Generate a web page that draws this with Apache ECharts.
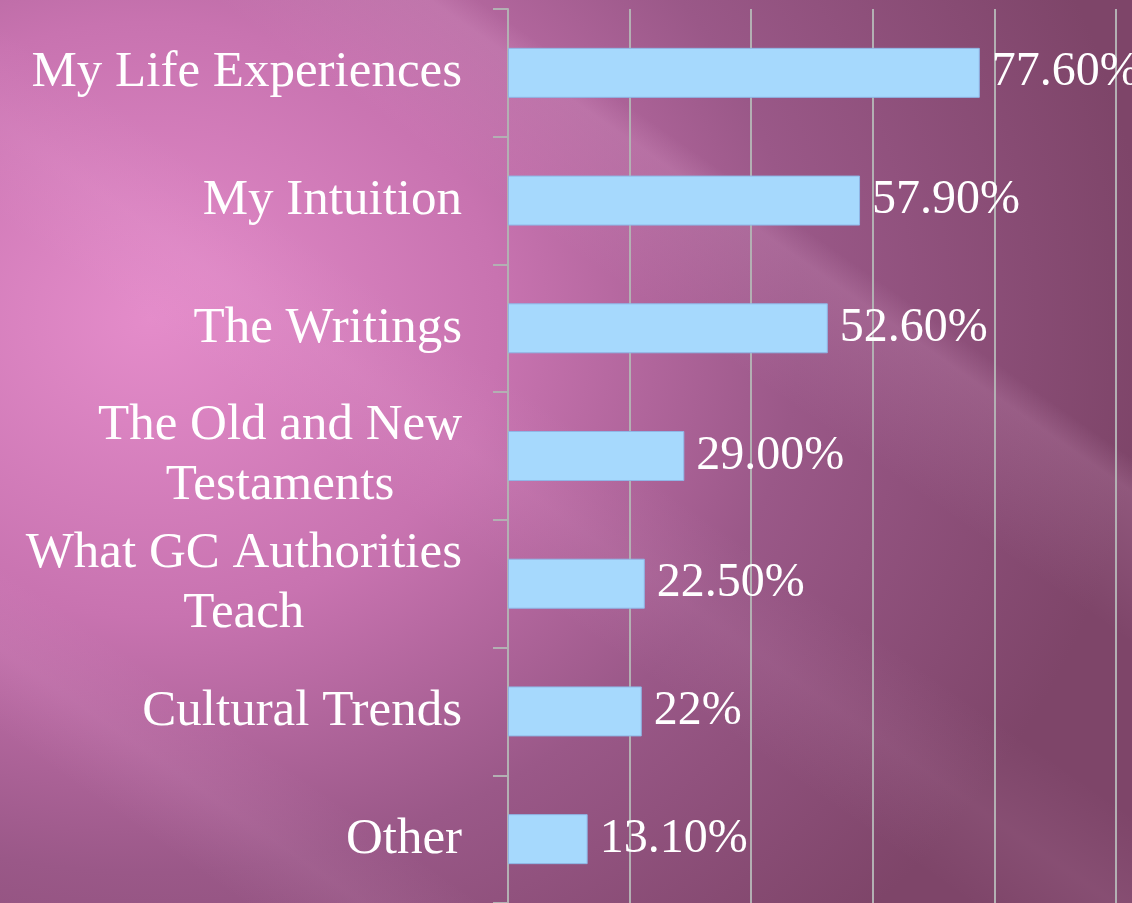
<!DOCTYPE html>
<html>
<head>
<meta charset="utf-8">
<script src="https://cdn.jsdelivr.net/npm/echarts@6/dist/echarts.min.js"></script>
<style>
  html, body { margin: 0; padding: 0; }
  body {
    width: 1132px; height: 903px; overflow: hidden;
    background:
      linear-gradient(35deg, rgba(255,200,240,0) 10%, rgba(255,200,240,0.08) 15%, rgba(255,200,240,0) 20%),
      linear-gradient(35deg, rgba(255,200,240,0) 62%, rgba(255,200,240,0.14) 71%, rgba(255,200,240,0) 73%),
      linear-gradient(35deg, rgba(255,200,240,0) 40%, rgba(255,200,240,0.07) 46%, rgba(255,200,240,0) 52%),
      radial-gradient(ellipse 1000px 850px at 150px 320px, #e48cca 0%, #c873b0 35%, #9a5888 65%, #7e4569 100%);
  }
  #barChart { width: 1132px; height: 903px; }
</style>
</head>
<body>
<div id="barChart"></div>
<script>
var categories = ['My Life Experiences', 'My Intuition', 'The Writings',
  'The Old and New\nTestaments', 'What GC Authorities\nTeach', 'Cultural Trends', 'Other'];
var values = [77.6, 57.9, 52.6, 29.0, 22.5, 22, 13.1];
var valueLabels = ['77.60%', '57.90%', '52.60%', '29.00%', '22.50%', '22%', '13.10%'];

var font = '"Liberation Serif", "DejaVu Serif", serif';
var chart = echarts.init(document.getElementById('barChart'));
chart.setOption({
  backgroundColor: 'transparent',
  grid: { left: 508, right: 16, top: 9, height: 896 },
  xAxis: {
    type: 'value',
    min: 0,
    max: 100,
    interval: 20,
    axisLabel: { show: false },
    axisLine: { show: false },
    axisTick: { show: false },
    splitLine: { lineStyle: { color: '#b3b0b3', width: 2 } }
  },
  yAxis: {
    type: 'category',
    inverse: true,
    data: categories,
    axisLine: { show: true, lineStyle: { color: '#b3b0b3', width: 2 } },
    axisTick: { show: true, length: 15, lineStyle: { color: '#b3b0b3', width: 2 } },
    axisLabel: {
      margin: 46,
      color: '#fff',
      fontFamily: font,
      fontSize: 51,
      lineHeight: 60,
      formatter: function (v) {
        return v.split('\n').map(function (s) { return '{c|' + s + '}'; }).join('\n');
      },
      rich: {
        c: { align: 'center', color: '#fff', fontFamily: font, fontSize: 51, lineHeight: 60 }
      }
    }
  },
  series: [{
    type: 'bar',
    data: values,
    barWidth: 50,
    itemStyle: { color: '#a6d9fd', borderColor: '#8fb6e6', borderWidth: 1 },
    label: {
      show: true,
      position: 'right',
      distance: 12,
      color: '#fff',
      fontFamily: font,
      fontSize: 48,
      formatter: function (p) { return valueLabels[p.dataIndex]; }
    }
  }]
});
window.addEventListener('resize', chart.resize);
</script>
</body>
</html>
